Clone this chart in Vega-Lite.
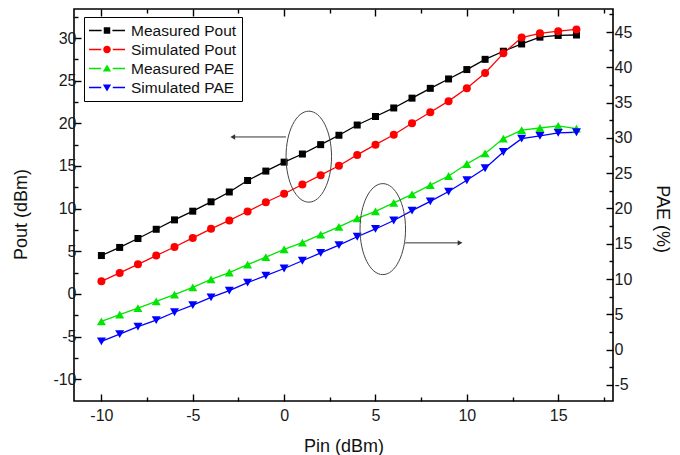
{
"$schema": "https://vega.github.io/schema/vega-lite/v6.json",
"width": 539,
"height": 392,
"autosize": {"type": "none"},
"padding": {"left": 74, "top": 9, "right": 67, "bottom": 54},
"background": "#ffffff",
"config": {
  "view": {"stroke": "#000000", "strokeWidth": 1.6},
  "font": "Liberation Sans",
  "axis": {"domain": false, "grid": false, "labelFont": "Liberation Sans", "labelFontSize": 16, "labelColor": "#1a1a1a", "titleFont": "Liberation Sans", "titleFontSize": 18, "titleFontWeight": "normal", "titleColor": "#111111", "tickColor": "#000000", "tickWidth": 1.4}
},
"datasets": {
  "curves": [
    {"Pin": -10, "series": "Measured Pout", "value": 4.5},
    {"Pin": -9, "series": "Measured Pout", "value": 5.45},
    {"Pin": -8, "series": "Measured Pout", "value": 6.5},
    {"Pin": -7, "series": "Measured Pout", "value": 7.58},
    {"Pin": -6, "series": "Measured Pout", "value": 8.68},
    {"Pin": -5, "series": "Measured Pout", "value": 9.7},
    {"Pin": -4, "series": "Measured Pout", "value": 10.8},
    {"Pin": -3, "series": "Measured Pout", "value": 11.95},
    {"Pin": -2, "series": "Measured Pout", "value": 13.3},
    {"Pin": -1, "series": "Measured Pout", "value": 14.4},
    {"Pin": 0, "series": "Measured Pout", "value": 15.45},
    {"Pin": 1, "series": "Measured Pout", "value": 16.4},
    {"Pin": 2, "series": "Measured Pout", "value": 17.5},
    {"Pin": 3, "series": "Measured Pout", "value": 18.6},
    {"Pin": 4, "series": "Measured Pout", "value": 19.8},
    {"Pin": 5, "series": "Measured Pout", "value": 20.8},
    {"Pin": 6, "series": "Measured Pout", "value": 21.8},
    {"Pin": 7, "series": "Measured Pout", "value": 22.95},
    {"Pin": 8, "series": "Measured Pout", "value": 24.1},
    {"Pin": 9, "series": "Measured Pout", "value": 25.2},
    {"Pin": 10, "series": "Measured Pout", "value": 26.3},
    {"Pin": 11, "series": "Measured Pout", "value": 27.5},
    {"Pin": 12, "series": "Measured Pout", "value": 28.45},
    {"Pin": 13, "series": "Measured Pout", "value": 29.3},
    {"Pin": 14, "series": "Measured Pout", "value": 30.1},
    {"Pin": 15, "series": "Measured Pout", "value": 30.3},
    {"Pin": 16, "series": "Measured Pout", "value": 30.35},
    {"Pin": -10, "series": "Simulated Pout", "value": 1.48},
    {"Pin": -9, "series": "Simulated Pout", "value": 2.46},
    {"Pin": -8, "series": "Simulated Pout", "value": 3.47},
    {"Pin": -7, "series": "Simulated Pout", "value": 4.5},
    {"Pin": -6, "series": "Simulated Pout", "value": 5.5},
    {"Pin": -5, "series": "Simulated Pout", "value": 6.57},
    {"Pin": -4, "series": "Simulated Pout", "value": 7.63},
    {"Pin": -3, "series": "Simulated Pout", "value": 8.62},
    {"Pin": -2, "series": "Simulated Pout", "value": 9.66},
    {"Pin": -1, "series": "Simulated Pout", "value": 10.75},
    {"Pin": 0, "series": "Simulated Pout", "value": 11.74},
    {"Pin": 1, "series": "Simulated Pout", "value": 12.83},
    {"Pin": 2, "series": "Simulated Pout", "value": 13.92},
    {"Pin": 3, "series": "Simulated Pout", "value": 15.02},
    {"Pin": 4, "series": "Simulated Pout", "value": 16.3},
    {"Pin": 5, "series": "Simulated Pout", "value": 17.5},
    {"Pin": 6, "series": "Simulated Pout", "value": 18.66},
    {"Pin": 7, "series": "Simulated Pout", "value": 20.0},
    {"Pin": 8, "series": "Simulated Pout", "value": 21.3},
    {"Pin": 9, "series": "Simulated Pout", "value": 22.6},
    {"Pin": 10, "series": "Simulated Pout", "value": 24.1},
    {"Pin": 11, "series": "Simulated Pout", "value": 25.9},
    {"Pin": 12, "series": "Simulated Pout", "value": 28.2},
    {"Pin": 13, "series": "Simulated Pout", "value": 30.05},
    {"Pin": 14, "series": "Simulated Pout", "value": 30.55},
    {"Pin": 15, "series": "Simulated Pout", "value": 30.8},
    {"Pin": 16, "series": "Simulated Pout", "value": 31.0},
    {"Pin": -10, "series": "Measured PAE", "value": 4.0},
    {"Pin": -9, "series": "Measured PAE", "value": 4.96},
    {"Pin": -8, "series": "Measured PAE", "value": 5.9},
    {"Pin": -7, "series": "Measured PAE", "value": 6.85},
    {"Pin": -6, "series": "Measured PAE", "value": 7.8},
    {"Pin": -5, "series": "Measured PAE", "value": 8.83},
    {"Pin": -4, "series": "Measured PAE", "value": 9.97},
    {"Pin": -3, "series": "Measured PAE", "value": 10.93},
    {"Pin": -2, "series": "Measured PAE", "value": 12.05},
    {"Pin": -1, "series": "Measured PAE", "value": 13.1},
    {"Pin": 0, "series": "Measured PAE", "value": 14.2},
    {"Pin": 1, "series": "Measured PAE", "value": 15.17},
    {"Pin": 2, "series": "Measured PAE", "value": 16.3},
    {"Pin": 3, "series": "Measured PAE", "value": 17.4},
    {"Pin": 4, "series": "Measured PAE", "value": 18.6},
    {"Pin": 5, "series": "Measured PAE", "value": 19.6},
    {"Pin": 6, "series": "Measured PAE", "value": 20.8},
    {"Pin": 7, "series": "Measured PAE", "value": 22.0},
    {"Pin": 8, "series": "Measured PAE", "value": 23.3},
    {"Pin": 9, "series": "Measured PAE", "value": 24.6},
    {"Pin": 10, "series": "Measured PAE", "value": 26.3},
    {"Pin": 11, "series": "Measured PAE", "value": 27.8},
    {"Pin": 12, "series": "Measured PAE", "value": 29.9},
    {"Pin": 13, "series": "Measured PAE", "value": 31.1},
    {"Pin": 14, "series": "Measured PAE", "value": 31.4},
    {"Pin": 15, "series": "Measured PAE", "value": 31.7},
    {"Pin": 16, "series": "Measured PAE", "value": 31.3},
    {"Pin": -10, "series": "Simulated PAE", "value": 1.18},
    {"Pin": -9, "series": "Simulated PAE", "value": 2.2},
    {"Pin": -8, "series": "Simulated PAE", "value": 3.26},
    {"Pin": -7, "series": "Simulated PAE", "value": 4.2},
    {"Pin": -6, "series": "Simulated PAE", "value": 5.3},
    {"Pin": -5, "series": "Simulated PAE", "value": 6.3},
    {"Pin": -4, "series": "Simulated PAE", "value": 7.4},
    {"Pin": -3, "series": "Simulated PAE", "value": 8.38},
    {"Pin": -2, "series": "Simulated PAE", "value": 9.5},
    {"Pin": -1, "series": "Simulated PAE", "value": 10.5},
    {"Pin": 0, "series": "Simulated PAE", "value": 11.5},
    {"Pin": 1, "series": "Simulated PAE", "value": 12.6},
    {"Pin": 2, "series": "Simulated PAE", "value": 13.7},
    {"Pin": 3, "series": "Simulated PAE", "value": 14.8},
    {"Pin": 4, "series": "Simulated PAE", "value": 16.0},
    {"Pin": 5, "series": "Simulated PAE", "value": 17.1},
    {"Pin": 6, "series": "Simulated PAE", "value": 18.3},
    {"Pin": 7, "series": "Simulated PAE", "value": 19.7},
    {"Pin": 8, "series": "Simulated PAE", "value": 21.0},
    {"Pin": 9, "series": "Simulated PAE", "value": 22.4},
    {"Pin": 10, "series": "Simulated PAE", "value": 24.0},
    {"Pin": 11, "series": "Simulated PAE", "value": 25.7},
    {"Pin": 12, "series": "Simulated PAE", "value": 28.0},
    {"Pin": 13, "series": "Simulated PAE", "value": 29.9},
    {"Pin": 14, "series": "Simulated PAE", "value": 30.3},
    {"Pin": 15, "series": "Simulated PAE", "value": 30.7},
    {"Pin": 16, "series": "Simulated PAE", "value": 30.8}
  ],
  "notes": [
    {"kind": "ellipse", "axis": "Pout", "Pin": 1.35, "value": 16.09},
    {"kind": "arrow", "axis": "Pout", "Pin": 0.1, "Pin2": -2.81, "value": 18.4},
    {"kind": "ellipse", "axis": "PAE", "Pin": 5.4, "value": 17.08},
    {"kind": "arrow", "axis": "PAE", "Pin": 6.62, "Pin2": 9.63, "value": 15.13}
  ]
},
"data": {"name": "curves"},
"encoding": {
  "x": {"field": "Pin", "type": "quantitative", "scale": {"domain": [-11.5, 18], "nice": false, "zero": false}, "axis": null}
},
"resolve": {"scale": {"y": "independent"}, "axis": {"x": "independent", "y": "independent"}},
"layer": [
  {
    "encoding": {
      "y": {"field": "value", "type": "quantitative", "scale": {"domain": [-12.55, 33.4], "nice": false, "zero": false}, "axis": null}
    },
    "resolve": {"axis": {"x": "independent", "y": "independent"}},
    "layer": [
      {
        "transform": [{"filter": "datum.series === 'Measured Pout'"}],
        "mark": {"type": "line", "strokeWidth": 1.3, "color": "#000000"},
        "encoding": {
          "x": {"field": "Pin", "type": "quantitative", "scale": {"domain": [-11.5, 18], "nice": false, "zero": false},
            "axis": {"orient": "bottom", "values": [-10, -5, 0, 5, 10, 15],
              "labelExpr": "'' + datum.value",
              "tickSize": -7,
              "labelPadding": 13, "labelFlush": false, "labelOverlap": false,
              "title": "Pin (dBm)", "titleY": 50, "titleBaseline": "alphabetic"}},
          "y": {"field": "value", "type": "quantitative", "scale": {"domain": [-12.55, 33.4], "nice": false, "zero": false},
            "axis": {"orient": "left", "values": [-10, -5, 0, 5, 10, 15, 20, 25, 30],
              "labelExpr": "'' + datum.value",
              "tickSize": -7,
              "labelPadding": 5, "labelFlush": false, "labelOverlap": false,
              "title": "Pout (dBm)", "titleX": -52.7, "titleY": 205, "titleAngle": -90, "titleBaseline": "middle", "titleAlign": "center"}}
        }
      },
      {
        "transform": [{"filter": "datum.series === 'Simulated Pout'"}],
        "mark": {"type": "line", "strokeWidth": 1.3, "color": "#ff0000"},
        "encoding": {}
      },
      {
        "transform": [{"filter": "datum.series === 'Measured Pout'"}],
        "mark": {"type": "point", "shape": "square", "filled": true, "color": "#000000", "size": 49, "opacity": 1},
        "encoding": {
          "x": {"field": "Pin", "type": "quantitative", "scale": {"domain": [-11.5, 18], "nice": false, "zero": false},
            "axis": {"orient": "bottom", "values": [-7.5, -2.5, 2.5, 7.5, 12.5, 17.5], "labels": false, "tickSize": -4, "title": null}},
          "y": {"field": "value", "type": "quantitative", "scale": {"domain": [-12.55, 33.4], "nice": false, "zero": false},
            "axis": {"orient": "left", "values": [-7.5, -2.5, 2.5, 7.5, 12.5, 17.5, 22.5, 27.5, 32.5], "labels": false, "tickSize": -4, "title": null}}
        }
      },
      {
        "transform": [{"filter": "datum.series === 'Simulated Pout'"}],
        "mark": {"type": "point", "shape": "circle", "filled": true, "color": "#ff0000", "size": 64, "opacity": 1},
        "encoding": {}
      },
      {
        "data": {"name": "notes"},
        "transform": [{"filter": "datum.kind === 'arrow' && datum.axis === 'Pout'"}],
        "mark": {"type": "rule", "color": "#333333", "strokeWidth": 1},
        "encoding": {"x2": {"field": "Pin2"}}
      },
      {
        "data": {"name": "notes"},
        "transform": [{"filter": "datum.kind === 'arrow' && datum.axis === 'Pout'"}],
        "mark": {"type": "point", "shape": "triangle-left", "filled": true, "color": "#333333", "size": 30, "opacity": 1},
        "encoding": {"x": {"field": "Pin2", "type": "quantitative", "scale": {"domain": [-11.5, 18], "nice": false, "zero": false}, "axis": null}}
      },
      {
        "data": {"name": "notes"},
        "transform": [{"filter": "datum.kind === 'ellipse' && datum.axis === 'Pout'"}],
        "mark": {"type": "point", "shape": "M-0.5,0A0.5,1 0 1 0 0.5,0A0.5,1 0 1 0 -0.5,0Z", "filled": false, "color": "#444444", "strokeWidth": 1, "size": 8281, "opacity": 1},
        "encoding": {}
      },
      {
        "transform": [{"filter": "datum.Pin > 1000"}],
        "mark": {"type": "point", "filled": true, "opacity": 1},
        "encoding": {
          "color": {"field": "series", "type": "nominal",
            "scale": {"domain": ["Measured Pout", "Simulated Pout", "Measured PAE", "Simulated PAE"], "range": ["#000000", "#ff0000", "#00e600", "#0000ff"]},
            "legend": {"title": null, "orient": "none", "legendX": 10, "legendY": 8, "direction": "vertical", "strokeColor": "#000000", "fillColor": "#ffffff", "padding": 5, "symbolSize": 1296, "clipHeight": 17, "rowPadding": 2, "labelFont": "Liberation Sans", "labelFontSize": 15.5, "labelColor": "#111111", "labelOffset": 6, "labelLimit": 300, "symbolOpacity": 1, "symbolStrokeWidth": 0}},
          "shape": {"field": "series", "type": "nominal",
            "scale": {"domain": ["Measured Pout", "Simulated Pout", "Measured PAE", "Simulated PAE"],
              "range": [
                "M-1,-0.035H-0.3V0.035H-1Z M0.3,-0.035H1V0.035H0.3Z M-0.18,-0.18H0.18V0.18H-0.18Z",
                "M-1,-0.035H-0.32V0.035H-1Z M0.32,-0.035H1V0.035H0.32Z M-0.21,0A0.21,0.21 0 1 0 0.21,0A0.21,0.21 0 1 0 -0.21,0Z",
                "M-1,-0.035H-0.32V0.035H-1Z M0.32,-0.035H1V0.035H0.32Z M0,-0.22L0.23,0.17H-0.23Z",
                "M-1,-0.035H-0.32V0.035H-1Z M0.32,-0.035H1V0.035H0.32Z M0,0.22L0.23,-0.17H-0.23Z"
              ]},
            "legend": {"title": null, "orient": "none", "legendX": 10, "legendY": 8, "direction": "vertical", "strokeColor": "#000000", "fillColor": "#ffffff", "padding": 5, "symbolSize": 1296, "clipHeight": 17, "rowPadding": 2, "labelFont": "Liberation Sans", "labelFontSize": 15.5, "labelColor": "#111111", "labelOffset": 6, "labelLimit": 300, "symbolOpacity": 1, "symbolStrokeWidth": 0}}
        }
      }
    ]
  },
  {
    "encoding": {
      "y": {"field": "value", "type": "quantitative", "scale": {"domain": [-7.27, 48.26], "nice": false, "zero": false}, "axis": null}
    },
    "resolve": {"axis": {"x": "independent", "y": "independent"}},
    "layer": [
      {
        "transform": [{"filter": "datum.series === 'Measured PAE'"}],
        "mark": {"type": "line", "strokeWidth": 1.3, "color": "#00e600"},
        "encoding": {
          "x": {"field": "Pin", "type": "quantitative", "scale": {"domain": [-11.5, 18], "nice": false, "zero": false},
            "axis": {"orient": "top", "values": [-10, -5, 0, 5, 10, 15], "labels": false, "tickSize": -7, "title": null}},
          "y": {"field": "value", "type": "quantitative", "scale": {"domain": [-7.27, 48.26], "nice": false, "zero": false},
            "axis": {"orient": "right", "values": [-5, 0, 5, 10, 15, 20, 25, 30, 35, 40, 45],
              "labelExpr": "'' + datum.value",
              "tickSize": -7,
              "labelPadding": 8, "labelFlush": false, "labelOverlap": false,
              "title": "PAE (%)", "titleX": 48.7, "titleY": 209.7, "titleAngle": 90, "titleBaseline": "middle", "titleAlign": "center"}}
        }
      },
      {
        "transform": [{"filter": "datum.series === 'Simulated PAE'"}],
        "mark": {"type": "line", "strokeWidth": 1.3, "color": "#0000ff"},
        "encoding": {}
      },
      {
        "transform": [{"filter": "datum.series === 'Measured PAE'"}],
        "mark": {"type": "point", "shape": "triangle-up", "filled": true, "color": "#00e600", "size": 81, "opacity": 1},
        "encoding": {
          "x": {"field": "Pin", "type": "quantitative", "scale": {"domain": [-11.5, 18], "nice": false, "zero": false},
            "axis": {"orient": "top", "values": [-7.5, -2.5, 2.5, 7.5, 12.5, 17.5], "labels": false, "tickSize": -4, "title": null}},
          "y": {"field": "value", "type": "quantitative", "scale": {"domain": [-7.27, 48.26], "nice": false, "zero": false},
            "axis": {"orient": "right", "values": [-2.5, 2.5, 7.5, 12.5, 17.5, 22.5, 27.5, 32.5, 37.5, 42.5, 47.5], "labels": false, "tickSize": -4, "title": null}}
        }
      },
      {
        "transform": [{"filter": "datum.series === 'Simulated PAE'"}],
        "mark": {"type": "point", "shape": "triangle-down", "filled": true, "color": "#0000ff", "size": 81, "opacity": 1},
        "encoding": {}
      },
      {
        "data": {"name": "notes"},
        "transform": [{"filter": "datum.kind === 'arrow' && datum.axis === 'PAE'"}],
        "mark": {"type": "rule", "color": "#333333", "strokeWidth": 1},
        "encoding": {"x2": {"field": "Pin2"}}
      },
      {
        "data": {"name": "notes"},
        "transform": [{"filter": "datum.kind === 'arrow' && datum.axis === 'PAE'"}],
        "mark": {"type": "point", "shape": "triangle-right", "filled": true, "color": "#333333", "size": 30, "opacity": 1},
        "encoding": {"x": {"field": "Pin2", "type": "quantitative", "scale": {"domain": [-11.5, 18], "nice": false, "zero": false}, "axis": null}}
      },
      {
        "data": {"name": "notes"},
        "transform": [{"filter": "datum.kind === 'ellipse' && datum.axis === 'PAE'"}],
        "mark": {"type": "point", "shape": "M-0.5,0A0.5,1 0 1 0 0.5,0A0.5,1 0 1 0 -0.5,0Z", "filled": false, "color": "#444444", "strokeWidth": 1, "size": 8281, "opacity": 1},
        "encoding": {}
      }
    ]
  }
]
}
